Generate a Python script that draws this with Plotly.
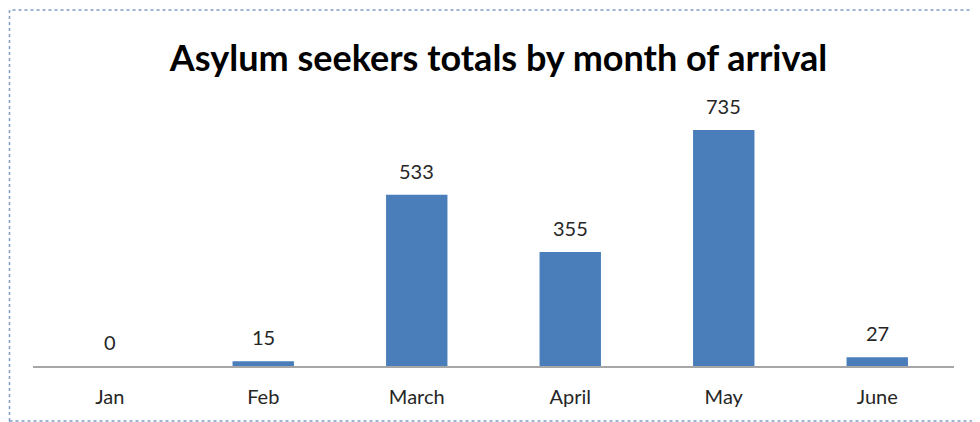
import plotly.graph_objects as go

months = ["Jan", "Feb", "March", "April", "May", "June"]
totals = [0, 15, 533, 355, 735, 27]
title_text = "Asylum seekers totals by month of arrival"

# the page places the figure 8px in from the window's top-left corner
OFF = 8
W, H = 980, 422
# plot area in window pixels: x 33..954, y 109..366
ML = 33 - OFF
MT = 109 - OFF
MR = W - (954 - OFF)
MB = H - (366 - OFF)
PW, PH = W - ML - MR, H - MT - MB

def px(x):  # window pixel x -> paper
    return (x - OFF - ML) / PW

def py(y):  # window pixel y -> paper
    return (H - MB - (y - OFF)) / PH

FONT = "Lato, Open Sans, sans-serif"

fig = go.Figure()
fig.add_trace(go.Bar(
    x=months, y=totals,
    marker=dict(color="#4a7ebb", line=dict(width=0)),
    width=0.4,
    hoverinfo="x+y",
))

for m, v in zip(months, totals):
    fig.add_annotation(x=m, y=v, text=str(v), showarrow=False,
                       yanchor="bottom", yshift=10,
                       font=dict(family=FONT, size=20, color="#262626"))

shapes = [
    dict(type="rect", xref="paper", yref="paper", x0=px(10), x1=px(955), y0=py(0), y1=py(8),
         fillcolor="#f4d5cf", line=dict(width=0), layer="below"),
    dict(type="rect", xref="paper", yref="paper", x0=px(9.5), x1=px(977), y0=py(421), y1=py(10),
         line=dict(color="#7f9cc4", width=1.5, dash="dot"), fillcolor="rgba(0,0,0,0)"),
]
fig.update_layout(shapes=shapes)

fig.update_layout(
    width=W, height=H,
    margin=dict(l=ML, r=MR, t=MT, b=MB),
    paper_bgcolor="white", plot_bgcolor="white",
    title=dict(text="<b>" + title_text + "</b>", x=px(494), xanchor="center",
               y=1 - (58 - OFF) / H, yanchor="middle",
               font=dict(family=FONT, size=36, color="#000000")),
    xaxis=dict(showline=True, linecolor="#a6a6a6", linewidth=1.5, ticks="",
               showgrid=False, zeroline=False, ticklabelstandoff=12,
               tickfont=dict(family=FONT, size=20, color="#262626")),
    yaxis=dict(range=[0, 800], visible=False, showgrid=False, zeroline=False),
    showlegend=False,
    bargap=0.6,
)

fig.write_html("out.html")
